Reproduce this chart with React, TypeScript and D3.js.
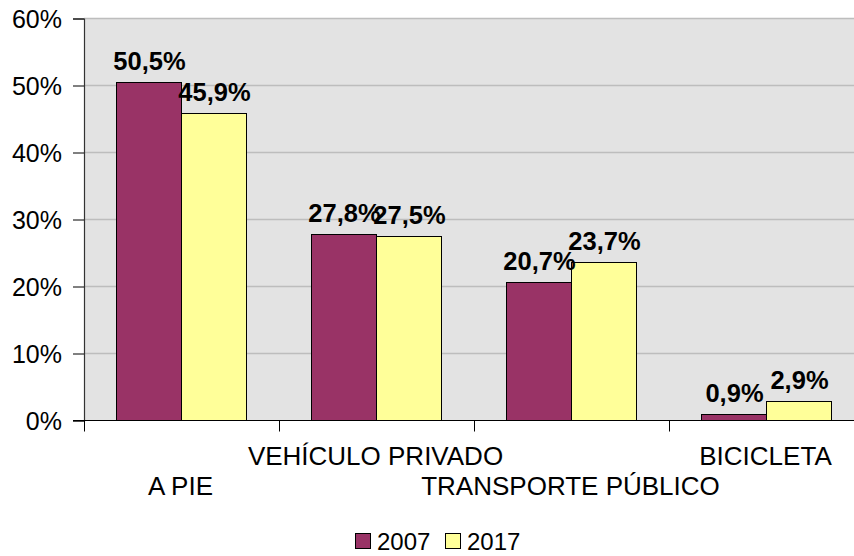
import React, { useEffect, useRef } from 'react';
import * as d3 from 'd3';

// data
const categories = ['A PIE', 'VEHÍCULO PRIVADO', 'TRANSPORTE PÚBLICO', 'BICICLETA'];
const years = ['2007', '2017'];
const values2007 = [50.5, 27.8, 20.7, 0.9];
const values2017 = [45.9, 27.5, 23.7, 2.9];
const yTicks = [0, 10, 20, 30, 40, 50, 60];

const colors = ['#993366', '#FFFF99'];

const fmt = (v: number) => v.toFixed(1).replace('.', ',') + '%';

const App = () => {
  const svgRef = useRef<SVGSVGElement>(null);

  useEffect(() => {
    const width = 854;
    const height = 556;
    const left = 84;
    const right = 864; // plot runs past the picture edge
    const top = 18.5;
    const bottom = 420.5;
    const font = 'Arial, "Liberation Sans", sans-serif';

    const svg = d3.select(svgRef.current);
    svg.selectAll('*').remove();
    svg.attr('width', width).attr('height', height);

    const x0 = d3.scaleBand().domain(categories).range([left, right]).padding(0);
    const x1 = d3.scaleBand().domain(years).range([32, 162]).padding(0);
    const y = d3.scaleLinear().domain([0, 60]).range([bottom, top]);

    // plot area
    svg.append('rect')
      .attr('x', left).attr('y', top)
      .attr('width', right - left).attr('height', bottom - top)
      .attr('fill', '#e3e3e3');

    // grid
    svg.append('g')
      .selectAll('line')
      .data(yTicks.filter(t => t > 0))
      .join('line')
      .attr('x1', left).attr('x2', right)
      .attr('y1', d => y(d)).attr('y2', d => y(d))
      .attr('stroke', '#bdbdbd')
      .attr('stroke-width', 1.5);

    // bars
    const rows = categories.map((c, i) => ({ cat: c, vals: [values2007[i], values2017[i]] }));
    const groups = svg.append('g')
      .selectAll('g')
      .data(rows)
      .join('g')
      .attr('transform', d => `translate(${x0(d.cat)},0)`);

    groups.selectAll('rect')
      .data(d => d.vals.map((v, j) => ({ year: years[j], v, j })))
      .join('rect')
      .attr('x', d => (x1(d.year) as number) + 0.5)
      .attr('y', d => Math.round(y(d.v)) + 0.5)
      .attr('width', x1.bandwidth())
      .attr('height', d => bottom - Math.round(y(d.v)) - 0.5)
      .attr('fill', d => colors[d.j])
      .attr('stroke', '#000')
      .attr('stroke-width', 1);

    groups.selectAll('text')
      .data(d => d.vals.map((v, j) => ({ year: years[j], v, j })))
      .join('text')
      .attr('x', d => (x1(d.year) as number) + x1.bandwidth() / 2 + 1)
      .attr('y', d => y(d.v) - 12)
      .attr('text-anchor', 'middle')
      .attr('font-family', font)
      .attr('font-weight', 'bold')
      .attr('font-size', 25.5)
      .attr('fill', '#000')
      .text(d => fmt(d.v));

    // y axis
    const yAxis = svg.append('g').attr('transform', `translate(${left},0)`)
      .call(d3.axisLeft(y).tickValues(yTicks).tickSize(11).tickPadding(11).tickFormat(d => `${d}%`));
    yAxis.select('.domain').attr('stroke', '#333').attr('stroke-width', 1.2);
    yAxis.selectAll('.tick line').attr('stroke', '#000');
    yAxis.selectAll('.tick text')
      .attr('font-family', font)
      .attr('font-size', 25)
      .attr('fill', '#000')
      .attr('dy', '0.36em');

    // x axis
    svg.append('line')
      .attr('x1', left - 11).attr('x2', right)
      .attr('y1', bottom).attr('y2', bottom)
      .attr('stroke', '#000');
    const bounds = categories.map(c => x0(c) as number);
    svg.append('g')
      .selectAll('line')
      .data(bounds)
      .join('line')
      .attr('x1', d => d + 0.5).attr('x2', d => d + 0.5)
      .attr('y1', bottom).attr('y2', bottom + 11)
      .attr('stroke', '#000');

    svg.append('g')
      .selectAll('text')
      .data(categories)
      .join('text')
      .attr('x', d => (x0(d) as number) + x0.bandwidth() / 2 - 1)
      .attr('y', (d, i) => (i % 2 === 0 ? 495 : 465))
      .attr('text-anchor', 'middle')
      .attr('font-family', font)
      .attr('font-size', 26)
      .attr('fill', '#000')
      .text(d => d);

    // legend
    const legendX = [355, 445];
    const legend = svg.append('g')
      .selectAll('g')
      .data(years)
      .join('g')
      .attr('transform', (d, i) => `translate(${legendX[i]},533)`);
    legend.append('rect')
      .attr('x', 0.5).attr('y', 0.5)
      .attr('width', 15).attr('height', 15)
      .attr('fill', (d, i) => colors[i])
      .attr('stroke', '#000');
    legend.append('text')
      .attr('x', 22).attr('y', 16.5)
      .attr('font-family', font)
      .attr('font-size', 24)
      .attr('fill', '#000')
      .text(d => d);
  }, []);

  return (
    <div style={{ position: 'absolute', left: 0, top: 0 }}>
      <svg ref={svgRef} style={{ display: 'block' }}></svg>
    </div>
  );
};

export default App;
